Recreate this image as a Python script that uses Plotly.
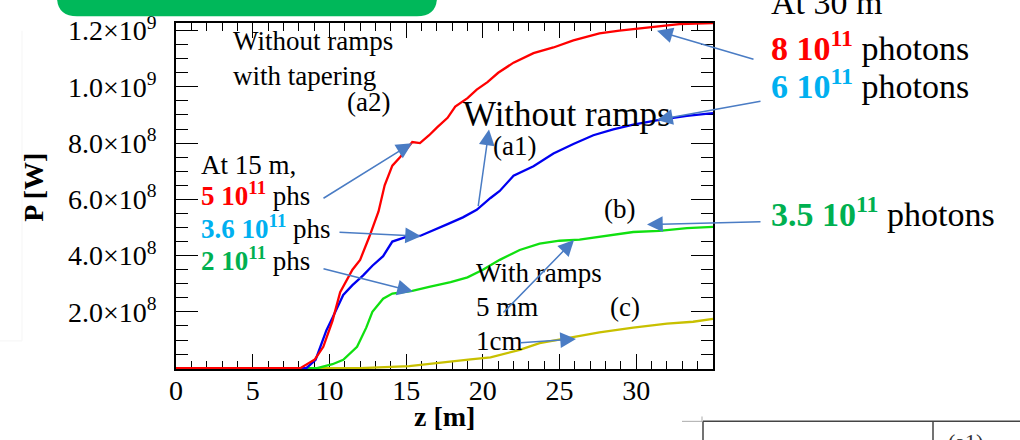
import plotly.graph_objects as go

# ---------------- data ----------------
z_red = [0, 8.1, 9.05, 9.6, 10.2, 10.7, 11.5, 12.0, 12.6, 13.2, 13.6, 14.1, 14.6, 15.4, 15.9,
         16.5, 17.0, 17.7, 18.2, 19.0, 19.6, 20.3, 21.0, 22.0, 23.3, 24.6, 25.9, 27.6, 28.9,
         30.9, 32.8, 35.0]
p_red = [0, 0, 0.31e8, 0.76e8, 1.68e8, 2.7e8, 3.5e8, 3.85e8, 4.67e8, 5.57e8, 6.5e8, 7.2e8,
         7.5e8, 8.04e8, 8.0e8, 8.28e8, 8.55e8, 8.9e8, 9.3e8, 9.6e8, 9.9e8, 10.17e8, 10.5e8,
         10.86e8, 11.2e8, 11.4e8, 11.65e8, 11.9e8, 12.0e8, 12.13e8, 12.23e8, 12.27e8]

z_blue = [0, 8.5, 9.1, 9.8, 10.2, 10.9, 11.5, 12.2, 12.8, 13.5, 14.1, 15.0, 15.9, 16.7, 17.7,
          18.7, 19.6, 20.5, 21.1, 22.0, 23.3, 24.6, 25.9, 27.2, 28.5, 29.8, 31.5, 33.3, 35.0]
p_blue = [0, 0, 0.3e8, 1.34e8, 1.79e8, 2.6e8, 2.95e8, 3.3e8, 3.64e8, 3.98e8, 4.5e8, 4.67e8,
          4.7e8, 4.88e8, 5.12e8, 5.36e8, 5.63e8, 6.05e8, 6.3e8, 6.84e8, 7.18e8, 7.63e8,
          7.97e8, 8.28e8, 8.49e8, 8.66e8, 8.83e8, 8.97e8, 9.07e8]

z_green = [0, 9.2, 10.2, 10.9, 11.8, 12.4, 12.8, 13.5, 14.1, 14.8, 15.4, 16.5, 17.9, 19.0,
           20.0, 21.1, 22.4, 23.7, 25.0, 26.3, 28.1, 29.8, 31.5, 33.3, 35.0]
p_green = [0, 0, 0.14e8, 0.3e8, 0.76e8, 1.44e8, 2.0e8, 2.47e8, 2.65e8, 2.7e8, 2.75e8, 2.89e8,
           3.06e8, 3.23e8, 3.5e8, 3.85e8, 4.2e8, 4.43e8, 4.53e8, 4.57e8, 4.7e8, 4.84e8,
           4.88e8, 4.98e8, 5.02e8]

z_yellow = [0, 12.0, 15.2, 17.2, 19.2, 20.5, 21.6, 22.4, 23.7, 25.5, 27.6, 29.8, 32.0, 33.7, 35.0]
p_yellow = [0, 0, 0.07e8, 0.2e8, 0.31e8, 0.38e8, 0.55e8, 0.65e8, 0.89e8, 1.06e8, 1.27e8,
            1.44e8, 1.58e8, 1.65e8, 1.75e8]

x_tickvals = [0, 5, 10, 15, 20, 25, 30]
x_ticktext = ["0", "5", "10", "15", "20", "25", "30"]
y_tickvals = [2e8, 4e8, 6e8, 8e8, 1.0e9, 1.2e9]
y_ticktext = ["2.0×10<sup>8</sup>", "4.0×10<sup>8</sup>", "6.0×10<sup>8</sup>",
              "8.0×10<sup>8</sup>", "1.0×10<sup>9</sup>", "1.2×10<sup>9</sup>"]

# ---------------- layout geometry ----------------
W, H = 1020, 440
L, R, T, B = 176, 713, 12, 369


def px(x):
    return (x - L) / (R - L)


def py(y):
    return (B - y) / (B - T)


SERIF = "Liberation Serif"
RED = "#ff0000"
LBLUE = "#00b0f0"
DGREEN = "#00b050"
ARROW = "#4a7cc4"

fig = go.Figure()
fig.add_trace(go.Scatter(x=z_yellow, y=p_yellow, mode="lines",
                         line=dict(color="#c8c000", width=2.3), name="(c)"))
fig.add_trace(go.Scatter(x=z_green, y=p_green, mode="lines",
                         line=dict(color="#10e010", width=2.3), name="(b)"))
fig.add_trace(go.Scatter(x=z_blue, y=p_blue, mode="lines",
                         line=dict(color="#0000f0", width=2.3), name="(a1)"))
fig.add_trace(go.Scatter(x=z_red, y=p_red, mode="lines",
                         line=dict(color=RED, width=2.3), name="(a2)"))

annotations = []


def text(t, x, y, size=27, xanchor="left", yanchor="middle", color="black", align="left"):
    annotations.append(dict(text=t, x=px(x), y=py(y), xref="paper", yref="paper",
                            xanchor=xanchor, yanchor=yanchor, showarrow=False, align=align,
                            font=dict(family=SERIF, size=size, color=color)))


def arrow(tail, head):
    annotations.append(dict(text="", x=px(head[0]), y=py(head[1]), xref="paper", yref="paper",
                            ax=tail[0] - head[0], ay=tail[1] - head[1],
                            axref="pixel", ayref="pixel", showarrow=True,
                            arrowhead=2, arrowsize=2.1, arrowwidth=1.5, arrowcolor=ARROW,
                            standoff=0, startstandoff=0))


def col(t, c):
    return f"<b><span style='color:{c}'>{t}</span></b>"


text("Without ramps<br>with tapering", 231, 49)
text("(a2)", 368, 94, xanchor="center")
text("At 15 m,", 199, 158)
text(col("5 10<sup>11</sup>", RED) + " phs", 199, 188)
text(col("3.6 10<sup>11</sup>", LBLUE) + " phs", 199, 222)
text(col("2 10<sup>11</sup>", DGREEN) + " phs", 199, 255)
text("Without ramps", 461, 106, size=35)
text("(a1)", 514, 139, xanchor="center")
text("(b)", 619, 204, xanchor="center")
text("(c)", 625, 305, xanchor="center")
text("With ramps", 474, 270)
text("5 mm", 474, 305)
text("1cm", 474, 340)
text("At 30 m", 769, -9, size=34)
text(col("8 10<sup>11</sup>", RED) + " photons", 769, 36, size=34)
text(col("6 10<sup>11</sup>", LBLUE) + " photons", 769, 75, size=34)
text(col("3.5 10<sup>11</sup>", DGREEN) + " photons", 769, 207, size=34)

# axis titles
text("<b>P [W]</b>", 34, 182, size=28, xanchor="center")
annotations[-1]["textangle"] = -90
text("<b>z [m]</b>", 444, 418, size=28, xanchor="center")

# partially visible table label at bottom right
text("(a1)", 946, 429, size=22, yanchor="top", color="#333333")

# arrows (tail -> head) in pixel positions
arrow((322, 192), (412, 136))
arrow((338, 228), (421, 232))
arrow((322, 266), (413, 289))
arrow((478, 200), (489, 122))
arrow((755, 49), (657, 20))
arrow((762, 93), (657, 112))
arrow((762, 217), (647, 220))
arrow((502, 310), (574, 236))
arrow((519, 342), (576, 338))

shapes = []
# green rounded banner at the top left (cut by the page edge)
x0, x1, yb, r = 57, 437, 5, 20
path = (f"M {px(x0)},{py(-30)} L {px(x0)},{py(yb - r)} "
        f"Q {px(x0)},{py(yb)} {px(x0 + r)},{py(yb)} "
        f"L {px(x1 - r)},{py(yb)} Q {px(x1)},{py(yb)} {px(x1)},{py(yb - r)} "
        f"L {px(x1)},{py(-30)} Z")
shapes.append(dict(type="path", path=path, xref="paper", yref="paper",
                   fillcolor="#00b85a", line=dict(width=0), layer="above"))


def seg(a, b, color, width=1.5):
    shapes.append(dict(type="line", xref="paper", yref="paper",
                       x0=px(a[0]), y0=py(a[1]), x1=px(b[0]), y1=py(b[1]),
                       line=dict(color=color, width=width), layer="above"))


# faint frame lines at the left
seg((22, 20), (22, 340), "#f5f5f5", 1)
seg((0, 340), (22, 340), "#f5f5f5", 1)
# bottom-right table fragment
seg((703, 423), (1020, 423), "#444444", 1.5)
seg((703, 423), (703, 445), "#444444", 1.5)
seg((933, 423), (933, 445), "#444444", 1.5)
seg((682, 423), (702, 423), "#aaaaaa", 1)
seg((702, 418), (702, 423), "#aaaaaa", 1)

axis_common = dict(showline=True, linecolor="black", linewidth=1.5, mirror="ticks",
                   ticks="inside", tickcolor="black", tickwidth=1.3, showgrid=False,
                   zeroline=False, layer="below traces",
                   tickfont=dict(family=SERIF, size=28, color="black"))

fig.update_layout(
    width=W, height=H,
    margin=dict(l=L, r=W - R, t=T, b=H - B, pad=0),
    paper_bgcolor="white", plot_bgcolor="white",
    showlegend=False,
    xaxis=dict(range=[0, 35], tickmode="array", tickvals=x_tickvals, ticktext=x_ticktext,
               ticklen=15, ticklabelstandoff=-4,
               minor=dict(tickmode="linear", tick0=0, dtick=1, ticklen=8, ticks="inside",
                          tickcolor="black", tickwidth=1.2, showgrid=False),
               **axis_common),
    yaxis=dict(range=[-3e6, 1.227e9], tickmode="array", tickvals=y_tickvals,
               ticktext=y_ticktext, ticklen=22, ticklabelstandoff=12,
               minor=dict(tickmode="linear", tick0=0, dtick=5e7, ticklen=12, ticks="inside",
                          tickcolor="black", tickwidth=1.2, showgrid=False),
               **axis_common),
    annotations=annotations,
    shapes=shapes,
)

fig.write_html("out.html")
